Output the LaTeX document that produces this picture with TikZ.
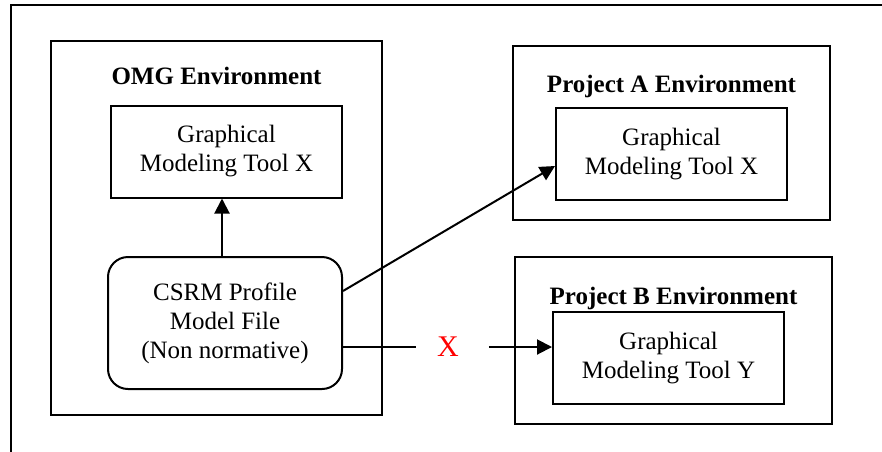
\documentclass[tikz,border=0pt]{standalone}
\usepackage{fontspec}
\setmainfont{Liberation Serif}
\usetikzlibrary{arrows.meta,calc}
\begin{document}
\begin{tikzpicture}[x=1pt,y=-1pt,line width=2pt,
  every node/.style={font=\fontsize{25}{29}\selectfont},
  envbox/.style={draw,rectangle,inner sep=0pt},
  toolbox/.style={draw,rectangle,align=center,inner sep=0pt,minimum width=231pt,minimum height=92pt},
  title/.style={font=\fontsize{25}{29}\selectfont\bfseries,inner sep=0pt},
  arr/.style={-{Triangle[length=15pt,width=15pt]}}]
\useasboundingbox (0,0) rectangle (882,451);
% outer frame
\draw (11,460) -- (11,5) -- (890,5);
% OMG environment
\node[envbox,minimum width=331pt,minimum height=374pt] (omg) at (216.5,228) {};
\node[title] (omgt) at (216.5,76) {OMG Environment};
\node[toolbox] (toolx) at (226.5,151.5) {Graphical\\Modeling Tool X};
\node[draw,rounded corners=20pt,align=center,inner sep=0pt,minimum width=234pt,minimum height=132pt] (csrm) at (225,323) {CSRM Profile\\Model File\\(Non normative)};
% Project A
\node[envbox,minimum width=317pt,minimum height=174pt] (pa) at (671.5,133) {};
\node[title] (pat) at (671.5,86) {Project A Environment};
\node[toolbox] (patool) at (671.5,154) {Graphical\\Modeling Tool X};
% Project B
\node[envbox,minimum width=317pt,minimum height=167pt] (pb) at (673.5,340.5) {};
\node[title] (pbt) at (673.5,298) {Project B Environment};
\node[toolbox] (pbtool) at (668.5,358) {Graphical\\Modeling Tool Y};
% red X
\node[text=red,inner sep=0pt,font=\fontsize{30}{34}\selectfont] (xm) at (448,347) {X};
% connectors
\draw[arr] ([xshift=-3pt]csrm.north) -- ([xshift=-3pt]csrm.north |- toolx.south);
\draw[arr] ([yshift=32pt]csrm.east) -- ([yshift=-12pt]patool.west);
\draw (csrm.east |- xm) -- ([xshift=-20pt]xm.west);
\draw[arr] ([xshift=29pt]xm.east) -- (pbtool.west |- xm);
\end{tikzpicture}
\end{document}
